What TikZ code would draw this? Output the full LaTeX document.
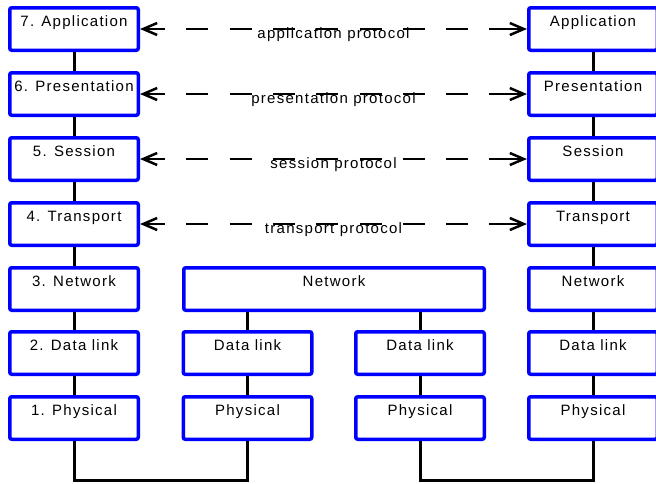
\documentclass[tikz,border=0pt]{standalone}
\usepackage{fontspec}
\setmainfont{Liberation Sans}[LetterSpace=8.5]
\usetikzlibrary{arrows.meta}
\begin{document}
\begin{tikzpicture}[x=1pt,y=-1pt,
  layer/.style={draw=blue, line width=3.5pt, rounded corners=2pt, fill=white,
    inner sep=0pt, minimum width=128.5pt, minimum height=42.5pt,
    text height=19pt, text depth=23.5pt, font=\fontsize{15pt}{18pt}\selectfont},
  wide/.style={layer, minimum width=300.5pt},
  link/.style={line width=3pt},
  pbarb/.tip={Straight Barb[length=14pt,width=12pt,line width=2.5pt]},
  % dashed peer link: solid shaft behind each arrow head, dashes in between
  peer/.style={line width=2.5pt, dash pattern=on 22pt off 21.3pt, dash phase=40.3pt,
    postaction={draw, solid, pbarb-, shorten >=362pt},
    postaction={draw, solid, -pbarb, shorten <=350pt}},
  proto/.style={anchor=base, inner sep=0pt, font=\fontsize{15pt}{18pt}\selectfont}]
\useasboundingbox (0,0) rectangle (656,483);

% free ends of the cable runs along the bottom
\coordinate (bl) at (74,480.5);
\coordinate (bm) at (247.5,480.5);
\coordinate (bn) at (420,480.5);
\coordinate (br) at (593,480.5);

% host A stack
\node[layer] (a7) at (74,29)  {7. Application};
\node[layer] (a6) at (74,94)  {6. Presentation};
\node[layer] (a5) at (74,159) {5. Session};
\node[layer] (a4) at (74,224) {4. Transport};
\node[layer] (a3) at (74,289) {3. Network};
\node[layer] (a2) at (74,353) {2. Data link};
\node[layer] (a1) at (74,418) {1. Physical};

% router
\node[wide]  (rn)  at (334,289)   {Network};
\node[layer] (rd1) at (247.5,353) {Data link};
\node[layer] (rp1) at (247.5,418) {Physical};
\node[layer] (rd2) at (420,353)   {Data link};
\node[layer] (rp2) at (420,418)   {Physical};

% host B stack
\node[layer] (b7) at (593,29)  {Application};
\node[layer] (b6) at (593,94)  {Presentation};
\node[layer] (b5) at (593,159) {Session};
\node[layer] (b4) at (593,224) {Transport};
\node[layer] (b3) at (593,289) {Network};
\node[layer] (b2) at (593,353) {Data link};
\node[layer] (b1) at (593,418) {Physical};

% vertical links inside each stack
\foreach \u/\l in {a7/a6,a6/a5,a5/a4,a4/a3,a3/a2,a2/a1,
                   b7/b6,b6/b5,b5/b4,b4/b3,b3/b2,b2/b1,
                   rd1/rp1,rd2/rp2}
  \draw[link] (\u.south) -- (\l.north);
\draw[link] (rd1.north |- rn.south) -- (rd1.north);
\draw[link] (rd2.north |- rn.south) -- (rd2.north);

% physical cabling
\draw[link] (a1.south) -- (bl) -- (bm) -- (rp1.south);
\draw[link] (rp2.south) -- (bn) -- (br) -- (b1.south);

% peer protocols
\node[proto] (p7) at (333.5,38.5)  {application protocol};
\node[proto] (p6) at (333.5,103.5) {presentation protocol};
\node[proto] (p5) at (333.5,168.5) {session protocol};
\node[proto] (p4) at (333.5,233.5) {transport protocol};
\draw[peer] (a7.east) -- (b7.west);
\draw[peer] (a6.east) -- (b6.west);
\draw[peer] (a5.east) -- (b5.west);
\draw[peer] (a4.east) -- (b4.west);
\end{tikzpicture}
\end{document}
